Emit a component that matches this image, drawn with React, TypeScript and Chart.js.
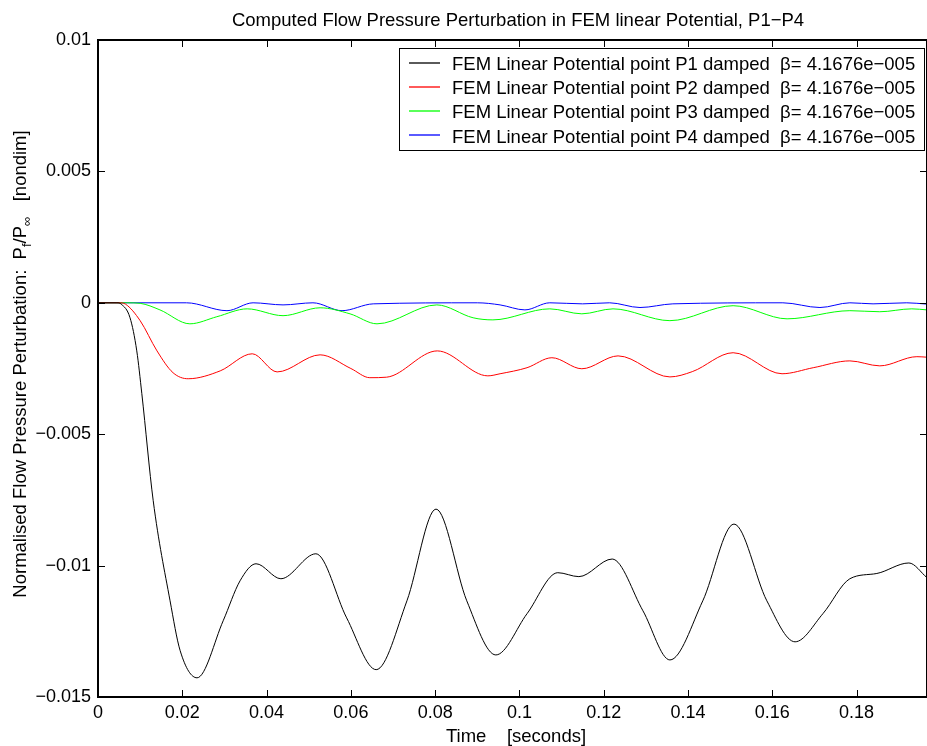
import React, { useEffect, useRef } from "react";
import { Chart, registerables } from "chart.js";

Chart.register(...registerables);

const FONT = "'Liberation Sans', Arial, Helvetica, sans-serif";

const chartTitle = "Computed Flow Pressure Perturbation in FEM linear Potential, P1\u2212P4";
const xAxisTitle = "Time    [seconds]";
const yAxisTitleParts = [
  { text: "Normalised Flow Pressure Perturbation:  P", sub: false },
  { text: "f", sub: true },
  { text: "/P", sub: false },
  { text: "\u221e", sub: true },
  { text: "   [nondim]", sub: false },
];

const seriesLabels = [
  "FEM Linear Potential point P1 damped  \u03b2= 4.1676e\u2212005",
  "FEM Linear Potential point P2 damped  \u03b2= 4.1676e\u2212005",
  "FEM Linear Potential point P3 damped  \u03b2= 4.1676e\u2212005",
  "FEM Linear Potential point P4 damped  \u03b2= 4.1676e\u2212005",
];
const seriesColors = ["#000000", "#ff0000", "#00ff00", "#0000ff"];

const xTicks = [0, 0.02, 0.04, 0.06, 0.08, 0.1, 0.12, 0.14, 0.16, 0.18];
const xTickLabels = ["0", "0.02", "0.04", "0.06", "0.08", "0.1", "0.12", "0.14", "0.16", "0.18"];
const yTicks = [-0.015, -0.01, -0.005, 0, 0.005, 0.01];
const yTickLabels = ["\u22120.015", "\u22120.01", "\u22120.005", "0", "0.005", "0.01"];

const xMin = 0;
const xMax = 0.1967;
const yMin = -0.015;
const yMax = 0.01;

// P1
const p1Time = [0, 0.0045, 0.0055, 0.0076, 0.0092, 0.0104, 0.0131, 0.0171, 0.0195, 0.0235, 0.0297, 0.0337, 0.0375, 0.0434, 0.0517, 0.059, 0.066, 0.0733, 0.0802, 0.0875, 0.0944, 0.1018, 0.1091, 0.1141, 0.122, 0.1293, 0.1357, 0.1435, 0.1509, 0.1587, 0.1654, 0.172, 0.1784, 0.1848, 0.1924, 0.1967];
const p1Value = [0, 0, -0.00005, -0.00057, -0.00183, -0.00346, -0.00753, -0.01134, -0.01324, -0.01427, -0.0121, -0.01058, -0.00993, -0.0105, -0.00955, -0.01199, -0.01396, -0.01134, -0.00785, -0.01134, -0.0134, -0.01183, -0.01027, -0.01042, -0.00975, -0.01172, -0.01359, -0.01134, -0.00842, -0.01134, -0.0129, -0.01183, -0.0105, -0.0103, -0.0099, -0.01046];

// P2
const p2Time = [0, 0.005, 0.0065, 0.01, 0.014, 0.0178, 0.0214, 0.029, 0.0366, 0.0425, 0.0527, 0.06, 0.0645, 0.0685, 0.0805, 0.0925, 0.0954, 0.1018, 0.1077, 0.1148, 0.1234, 0.1357, 0.141, 0.1507, 0.1623, 0.1697, 0.1784, 0.1855, 0.1943, 0.1967];
const p2Value = [0, 0, -0.00005, -0.00068, -0.00183, -0.00266, -0.00289, -0.00259, -0.00194, -0.00263, -0.00198, -0.0025, -0.00285, -0.00283, -0.00183, -0.00278, -0.0027, -0.00247, -0.00209, -0.00251, -0.00202, -0.00282, -0.00262, -0.0019, -0.0027, -0.00247, -0.00221, -0.0024, -0.00205, -0.00207];

// P3
const p3Time = [0, 0.007, 0.01, 0.0147, 0.0218, 0.0282, 0.0354, 0.0439, 0.0527, 0.0598, 0.0662, 0.0804, 0.089, 0.0937, 0.1072, 0.1148, 0.1222, 0.1357, 0.1507, 0.1635, 0.1784, 0.1855, 0.1931, 0.1967];
const p3Value = [0, 0, -0.00002, -0.00027, -0.0008, -0.00053, -0.00023, -0.00049, -0.00019, -0.00042, -0.0008, -0.00008, -0.00057, -0.00065, -0.00023, -0.00042, -0.00023, -0.00068, -0.00011, -0.00061, -0.0003, -0.00034, -0.00023, -0.00027];

// P4
const p4Time = [0, 0.021, 0.0306, 0.0368, 0.0439, 0.051, 0.0579, 0.0653, 0.09, 0.0954, 0.1013, 0.1072, 0.115, 0.1214, 0.1286, 0.1364, 0.1625, 0.1713, 0.1784, 0.1839, 0.1919, 0.1967];
const p4Value = [0, 0, -0.0003, 0, -0.00008, 0, -0.0003, -0.00004, 0, -0.00008, -0.00027, 0, -0.00004, 0, -0.00018, -0.00004, 0, -0.00018, 0, -0.00004, 0, -0.00005];

const seriesTimes = [p1Time, p2Time, p3Time, p4Time];
const seriesValues = [p1Value, p2Value, p3Value, p4Value];

const decorPlugin = {
  id: "decor",
  afterDatasetsDraw(chart: any) {
    const { ctx, chartArea, scales } = chart;
    const { left, right, top, bottom } = chartArea;
    const xs = scales.x;
    const ys = scales.y;
    ctx.save();
    ctx.strokeStyle = "#000";
    ctx.lineWidth = 1;
    const tl = 7;
    ctx.beginPath();
    xTicks.forEach((v) => {
      const px = Math.round(xs.getPixelForValue(v)) + 0.5;
      ctx.moveTo(px, bottom);
      ctx.lineTo(px, bottom - tl);
      ctx.moveTo(px, top);
      ctx.lineTo(px, top + tl);
    });
    yTicks.forEach((v) => {
      const py = Math.round(ys.getPixelForValue(v)) + 0.5;
      ctx.moveTo(left, py);
      ctx.lineTo(left + tl, py);
      ctx.moveTo(right, py);
      ctx.lineTo(right - tl, py);
    });
    ctx.stroke();
    ctx.lineWidth = 2;
    ctx.strokeRect(left, top, right - left, bottom - top);
    ctx.restore();
  },
  afterDraw(chart: any) {
    const { ctx } = chart;
    ctx.save();
    ctx.fillStyle = "#000";
    // title
    ctx.font = `18.5px ${FONT}`;
    ctx.textAlign = "center";
    ctx.textBaseline = "alphabetic";
    ctx.fillText(chartTitle, 518, 26);
    // x title
    ctx.fillText(xAxisTitle, 516, 742);
    // y title with subscripts
    ctx.translate(26, 364);
    ctx.rotate(-Math.PI / 2);
    const mainFont = `18.5px ${FONT}`;
    const subFont = `13px ${FONT}`;
    let total = 0;
    const widths = yAxisTitleParts.map((p) => {
      ctx.font = p.sub ? subFont : mainFont;
      const w = ctx.measureText(p.text).width;
      total += w;
      return w;
    });
    let cx = -total / 2;
    ctx.textAlign = "left";
    yAxisTitleParts.forEach((p, i) => {
      ctx.font = p.sub ? subFont : mainFont;
      ctx.fillText(p.text, cx, p.sub ? 5 : 0);
      cx += widths[i];
    });
    ctx.restore();

    // legend
    ctx.save();
    const bx = 399.5, by = 48.5, bw = 525, bh = 102;
    ctx.fillStyle = "#fff";
    ctx.fillRect(bx, by, bw, bh);
    ctx.strokeStyle = "#000";
    ctx.lineWidth = 1;
    ctx.strokeRect(bx, by, bw, bh);
    ctx.font = `18.5px ${FONT}`;
    ctx.textAlign = "left";
    ctx.textBaseline = "alphabetic";
    seriesLabels.forEach((lab, i) => {
      const base = 70 + i * 24.2;
      const ly = Math.round(base - 7.5);
      ctx.strokeStyle = seriesColors[i];
      ctx.lineWidth = 1.3;
      ctx.beginPath();
      ctx.moveTo(409, ly);
      ctx.lineTo(440, ly);
      ctx.stroke();
      ctx.fillStyle = "#000";
      ctx.fillText(lab, 452, base);
    });
    ctx.restore();
  },
};

export default function App() {
  const ref = useRef<HTMLCanvasElement>(null);
  useEffect(() => {
    document.body.style.margin = "0";
    document.body.style.overflow = "hidden";
    const canvas = ref.current!;
    const chart = new Chart(canvas, {
      type: "line",
      data: {
        datasets: seriesLabels.map((lab, i) => ({
          label: lab,
          data: seriesTimes[i].map((t, j) => ({ x: t, y: seriesValues[i][j] })),
          borderColor: seriesColors[i],
          backgroundColor: seriesColors[i],
          borderWidth: 1,
          pointRadius: 0,
          fill: false,
          cubicInterpolationMode: "monotone" as const,
        })),
      },
      options: {
        responsive: false,
        animation: false,
        events: [],
        layout: { padding: { top: 40, left: 0, right: 0, bottom: 0 } },
        plugins: {
          legend: { display: false },
          title: { display: false },
          tooltip: { enabled: false },
        },
        scales: {
          x: {
            type: "linear",
            min: xMin,
            max: xMax,
            afterBuildTicks: (s: any) => {
              s.ticks = xTicks.map((v) => ({ value: v }));
            },
            afterFit: (s: any) => {
              s.height = 49;
            },
            ticks: {
              callback: (_v: any, i: number) => xTickLabels[i],
              font: { family: FONT, size: 18 },
              color: "#000",
              padding: 5,
              maxRotation: 0,
              autoSkip: false,
            },
            grid: { display: false, drawTicks: false },
            border: { display: false },
          },
          y: {
            type: "linear",
            min: yMin,
            max: yMax,
            afterBuildTicks: (s: any) => {
              s.ticks = yTicks.map((v) => ({ value: v }));
            },
            afterFit: (s: any) => {
              s.width = 98;
            },
            ticks: {
              callback: (_v: any, i: number) => yTickLabels[i],
              font: { family: FONT, size: 18 },
              color: "#000",
              padding: 7,
              autoSkip: false,
            },
            grid: { display: false, drawTicks: false },
            border: { display: false },
          },
        },
      },
      plugins: [decorPlugin],
    });
    return () => chart.destroy();
  }, []);
  return (
    <div style={{ width: 927, height: 746 }}>
      <canvas ref={ref} width={927} height={746} style={{ display: "block" }} />
    </div>
  );
}
